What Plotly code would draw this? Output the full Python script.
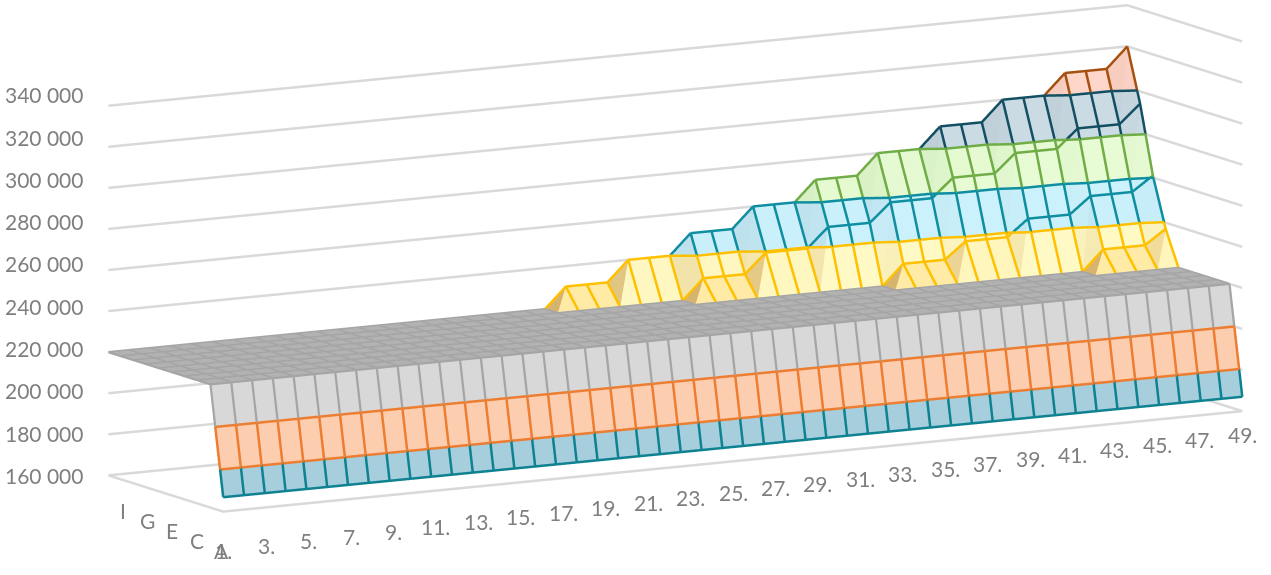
import numpy as np
import plotly.graph_objects as go

row_A = [167000]*50
row_B = [220000]*50
row_C = [220000]*50
row_D = [220000]*50
row_E = [220000]*50
row_F = [220000]*50
row_G = [220000]*46 + [230000]*3 + [237000]
row_H = [220000]*37 + [230000]*3 + [238000]*3 + [246000]*3 + [254000]*3 + [261000]
row_I = [220000]*28 + [230000]*3 + [239500]*3 + [249000]*3 + [258000]*3 + [267000]*3 + [276000]*3 + [285000]*3 + [294000]
row_J = [220000]*22 + [230000]*3 + [240000]*3 + [250000]*3 + [260000]*3 + [270000]*3 + [280000]*3 + [290000]*3 + [300000]*3 + [310000]*3 + [320000]
z_ticks = [160000,180000,200000,220000,240000,260000,280000,300000,320000,340000]
x_tick_labels = [str(c)+"." for c in range(1,50,2)]
y_tick_labels = ["A","C","E","G","I"]
Z = np.array([row_A,row_B,row_C,row_D,row_E,row_F,row_G,row_H,row_I,row_J],float)

# view
ax,ay,az=2.5,0.504,0.804
edir=np.array([-1028.906,-1839.300,377.352]); kpx=1e6/np.linalg.norm(edir)
ux,uy=0.002,-0.003
px,py=675.189,258.303
W,H=1271,575
G=kpx/(H/2)
ehat=edir/np.linalg.norm(edir); f=-ehat; up=np.array([ux,uy,1.0])
s=np.cross(f,up); s/=np.linalg.norm(s); u=np.cross(s,f)
center=(s*(W/2-px)/kpx + u*(py-H/2)/kpx)*G
eye=center+ehat*6.0
pad=np.array([0.2/49,0.2/9,2000/180000])

band_edges=[160000,180000,200000,220000,240000,260000,280000,300000,320000,340000]
band_line=["#0e8291","#ed7d31","#a5a5a5","#ffc000","#0e8ea0","#70ad47","#134f63","#a5500f","#a5500f"]
band_width=[5,5,4.5,5,5,5,5,5,5]
band_light=["#a6cfdc","#fdcdb0","#d9d9d9","#fffbc9","#cdf3fd","#e8fcd6","#cddde6","#ffd8cc","#ffd8cc"]
band_mid=["#a6cfdc","#fdcdb0","#b2b2b2","#ffe699","#b5e2f0","#d5f0b8","#bccdd6","#ffc8b8","#ffc8b8"]
band_dark=["#a6cfdc","#fdcdb0","#b2b2b2","#d6b36e","#9fc0cd","#b8d8a2","#9aabb3","#d9a898","#d9a898"]
def rgb(h): return np.array([int(h[i:i+2],16) for i in (1,3,5)],float)
def clip(poly,lo,hi):
    def cl(pts,lev,keep):
        out=[]
        n=len(pts)
        for i in range(n):
            a,b=pts[i],pts[(i+1)%n]
            ia,ib=keep(a[2]),keep(b[2])
            if ia: out.append(a)
            if ia!=ib:
                t=(lev-a[2])/(b[2]-a[2]); out.append(a+(b-a)*t)
        return out
    p1=cl(poly,lo,lambda z:z>=lo)
    if len(p1)<3: return []
    return cl(p1,hi,lambda z:z<=hi)
vx=[];vy=[];vz=[];I=[];K=[];Jn=[];fc=[]
wsc=np.array([ax/49,ay/9,az/180000])
def add_tri(a,b,c):
    for k in range(len(band_edges)-1):
        lo,hi=band_edges[k],band_edges[k+1]
        zs=[a[2],b[2],c[2]]
        if max(zs)<=lo or min(zs)>=hi:
            if not (max(zs)==min(zs) and zs[0]==hi): continue
        poly=clip([a,b,c],lo,hi)
        if len(poly)<3: continue
        n=np.cross((b-a)*wsc,(c-a)*wsc); n/=np.linalg.norm(n)
        tz=min(1,abs(n[2])**4*2); tx=min(1,abs(n[0])**3*4)
        col=rgb(band_light[k])*(1-tz)+rgb(band_mid[k])*tz
        col=col*(1-tx)+rgb(band_dark[k])*tx
        for i in range(1,len(poly)-1):
            base=len(vx)
            for q in (poly[0],poly[i],poly[i+1]):
                vx.append(q[0]);vy.append(q[1]);vz.append(q[2])
            I.append(base);Jn.append(base+1);K.append(base+2)
            fc.append("rgb(%d,%d,%d)"%tuple(col))
P3=lambda c,r:np.array([c+1.0,r,Z[r,c]])
for r in range(9):
    for c in range(49):
        a,b,cc,d=P3(c,r),P3(c+1,r),P3(c+1,r+1),P3(c,r+1)
        add_tri(a,b,cc); add_tri(a,cc,d)
seg=[[] for _ in band_line]
def add_seg(a,b):
    zs=sorted({a[2],b[2]}|{e for e in band_edges if min(a[2],b[2])<e<max(a[2],b[2])})
    if len(zs)==1:
        k=max(0,np.searchsorted(band_edges,zs[0],side='left')-1)
        seg[k].append((a,b)); return
    for z0,z1 in zip(zs[:-1],zs[1:]):
        ta,tb=(z0-a[2])/(b[2]-a[2]),(z1-a[2])/(b[2]-a[2])
        k=np.searchsorted(band_edges,(z0+z1)/2)-1
        seg[k].append((a+(b-a)*ta,a+(b-a)*tb))
for r in range(10):
    for c in range(49): add_seg(P3(c,r),P3(c+1,r))
for c in range(50):
    for r in range(9): add_seg(P3(c,r),P3(c,r+1))
def contour(a,b,cc):
    for k,L in enumerate(band_edges):
        if L in (160000,220000,340000): continue
        pts=[]
        for u_,v_ in ((a,b),(b,cc),(cc,a)):
            if (u_[2]<L)!=(v_[2]<L): pts.append(u_+(v_-u_)*(L-u_[2])/(v_[2]-u_[2]))
        if len(pts)==2:
            kk=1 if L==180000 else k-1
            seg[kk].append((pts[0],pts[1]))
for r in range(9):
    for c in range(49):
        a,b,cc,d=P3(c,r),P3(c+1,r),P3(c+1,r+1),P3(c,r+1)
        contour(a,b,cc); contour(a,cc,d)
shift=ehat*0.005/wsc
fig=go.Figure()
fig.add_trace(go.Mesh3d(x=vx,y=vy,z=vz,i=I,j=Jn,k=K,facecolor=fc,flatshading=True,hoverinfo="skip",showscale=False,
    lighting=dict(ambient=1,diffuse=0,specular=0,roughness=1,fresnel=0)))
for k,ss in enumerate(seg):
    if not ss: continue
    xs=[];ys=[];zs=[]
    for a,b in ss:
        a,b=a+shift,b+shift
        xs+= [a[0],b[0],None];ys+=[a[1],b[1],None];zs+=[a[2],b[2],None]
    fig.add_trace(go.Scatter3d(x=xs,y=ys,z=zs,mode="lines",line=dict(color=band_line[k],width=band_width[k]),hoverinfo="skip",showlegend=False))
xs=[];ys=[];zs=[]
for z in z_ticks:
    xs+=[1,50,50,None];ys+=[9,9,0,None];zs+=[z,z,z,None]
xs+=[1,1,50];ys+=[9,0,0];zs+=[160000]*3
fig.add_trace(go.Scatter3d(x=xs,y=ys,z=zs,mode="lines",line=dict(color="#d9d9d9",width=5),hoverinfo="skip",showlegend=False))
lab=dict(family="Lato",size=21,color="#7f7f7f")
ann=[]
for z in z_ticks:
    ann.append(dict(x=1,y=9,z=z,text=f"{z//1000} 000",showarrow=False,xanchor="right",xshift=-23,yshift=(z-160000)/180000*11,font=lab))
for i,t in enumerate(x_tick_labels):
    c=1+2*i
    ann.append(dict(x=c,y=0,z=160000,text=t,showarrow=False,xshift=0.6+0.42*(c-1),yshift=-(39-0.36*(c-1)),font=lab))
y_shift_x=[-2,-1,0,0.5,2]
for i,t in enumerate(y_tick_labels):
    ann.append(dict(x=1,y=2*i,z=160000,text=t,showarrow=False,xshift=y_shift_x[i],yshift=-39+2*i,font=lab))
noax=dict(showgrid=False,showline=False,zeroline=False,showticklabels=False,showbackground=False,showspikes=False,title="",ticks="")
fl=float
fig.update_layout(width=W,height=H,margin=dict(l=0,r=0,t=0,b=0),paper_bgcolor="white",showlegend=False,
  scene=dict(domain=dict(x=[0,1],y=[0,1]),aspectmode="manual",
    aspectratio=dict(x=G*ax*(1+2*pad[0]),y=G*ay*(1+2*pad[1]),z=G*az*(1+2*pad[2])),
    camera=dict(eye=dict(x=fl(eye[0]),y=fl(eye[1]),z=fl(eye[2])),center=dict(x=fl(center[0]),y=fl(center[1]),z=fl(center[2])),
                up=dict(x=ux,y=uy,z=1),projection=dict(type="orthographic")),
    xaxis=dict(range=[0.8,50.2],**noax),yaxis=dict(range=[-0.2,9.2],**noax),zaxis=dict(range=[158000,342000],**noax),annotations=ann))
fig.write_html("out.html",config=dict(displayModeBar=False),post_script="document.body.style.margin='0';document.documentElement.style.overflow='hidden';")
